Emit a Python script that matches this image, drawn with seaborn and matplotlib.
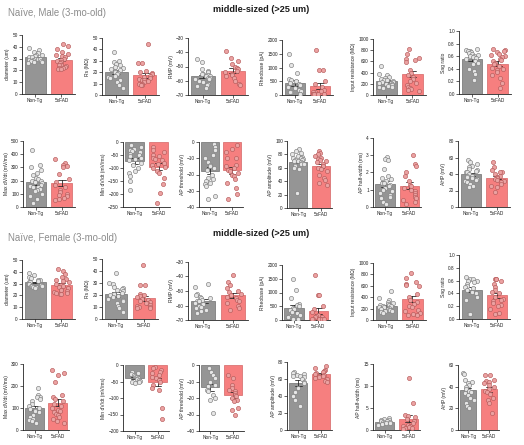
import numpy as np
import pandas as pd
import matplotlib
matplotlib.use('Agg')
import matplotlib.pyplot as plt
import seaborn as sns

# ── Data ──────────────────────────────────────────────────────────────────────
groups = ['Non-Tg', '5xFAD']

# passive properties (same cells shown in both male / female top rows)
diam_wt = [39, 37, 36, 35, 33, 33, 32, 31, 31, 30, 30, 30, 29, 29, 28, 28, 28, 27, 27, 26]
diam_tg = [42, 41, 38, 36, 34, 33, 32, 31, 30, 29, 28, 27, 26, 25, 25, 24, 23, 22, 22, 21, 21]
rs_wt = [38, 30, 29, 27, 26, 25, 24, 23, 22, 21, 20, 19, 18, 17, 16, 15, 13, 11, 9, 6]
rs_tg = [45, 28, 28, 21, 20, 19, 18, 17, 16, 15, 14, 13, 13, 12, 11, 10, 10, 9, 9]
rmp_wt = [-45, -47, -52, -53, -54, -55, -55, -56, -57, -57, -58, -58, -59, -59, -60, -61, -62, -63, -64, -65]
rmp_tg = [-39, -44, -46, -48, -50, -51, -52, -53, -54, -55, -56, -57, -58, -60, -62, -63]
rheo_wt = [1500, 1100, 800, 600, 550, 500, 450, 400, 350, 300, 250, 200, 150, 100, 100, 50, 50]
rheo_tg = [1650, 900, 900, 500, 400, 300, 200, 150, 100, 100, 50, 50, 50, 50, 25, 25]
rin_wt = [510, 380, 350, 320, 300, 280, 270, 260, 250, 240, 230, 220, 210, 200, 190, 180, 170, 160, 150, 140, 130]
rin_tg = [820, 740, 660, 640, 620, 590, 450, 400, 350, 320, 280, 250, 220, 180, 150, 120, 100, 90, 80]

# male
m_sag_wt = [0.72, 0.70, 0.69, 0.68, 0.66, 0.65, 0.63, 0.62, 0.60, 0.60, 0.58, 0.57, 0.55, 0.53, 0.50, 0.47, 0.40, 0.36, 0.31, 0.22]
m_sag_tg = [0.71, 0.70, 0.68, 0.66, 0.64, 0.62, 0.60, 0.58, 0.56, 0.54, 0.52, 0.50, 0.48, 0.45, 0.42, 0.40, 0.38, 0.35, 0.30, 0.25, 0.18, 0.10]
m_maxdv_wt = [430, 320, 300, 280, 260, 240, 220, 210, 200, 200, 190, 180, 170, 160, 150, 150, 140, 130, 120, 100, 80, 60, 30]
m_maxdv_tg = [360, 330, 320, 310, 300, 250, 210, 190, 170, 150, 130, 110, 100, 90, 80, 70, 60, 50]
m_mindv_wt = [-10, -20, -25, -30, -35, -40, -45, -50, -55, -60, -65, -70, -80, -90, -100, -110, -120, -130, -150, -185]
m_mindv_tg = [-20, -30, -40, -50, -55, -60, -65, -70, -80, -85, -90, -95, -100, -110, -120, -140, -160, -195, -235]
m_thr_wt = [-1, -3, -5, -8, -10, -12, -14, -15, -16, -17, -20, -22, -23, -24, -25, -26, -27, -33, -35]
m_thr_tg = [-2, -4, -6, -10, -10, -14, -15, -16, -17, -18, -19, -20, -21, -23, -25, -28, -32, -35]
m_amp_wt = [88, 85, 82, 80, 78, 76, 75, 74, 73, 72, 71, 70, 70, 68, 67, 66, 65, 64, 62, 60, 58, 22]
m_amp_tg = [85, 82, 80, 78, 75, 73, 72, 70, 68, 65, 62, 60, 58, 55, 50, 45, 42, 38, 35]
m_hw_wt = [2.9, 2.8, 2.7, 2.2, 1.8, 1.7, 1.6, 1.5, 1.4, 1.4, 1.3, 1.2, 1.1, 1.0, 1.0, 0.9, 0.8, 0.7, 0.6, 0.5, 0.3, 0.2]
m_hw_tg = [3.0, 2.5, 2.4, 2.0, 1.8, 1.5, 1.3, 1.2, 1.1, 1.0, 0.9, 0.8, 0.7, 0.6, 0.5, 0.4, 0.3, 0.2]
m_ahp_wt = [57, 55, 52, 50, 48, 46, 45, 44, 43, 42, 40, 38, 37, 36, 35, 34, 33, 32, 30, 28, 26, 24]
m_ahp_tg = [54, 48, 45, 43, 42, 40, 38, 36, 35, 34, 33, 32, 30, 28, 26, 24, 18]

# female
f_sag_wt = [0.65, 0.63, 0.62, 0.60, 0.60, 0.58, 0.55, 0.52, 0.50, 0.48, 0.45, 0.42, 0.40, 0.35, 0.30, 0.08, 0.08]
f_sag_tg = [0.63, 0.62, 0.62, 0.60, 0.55, 0.50, 0.45, 0.42, 0.40, 0.35, 0.32, 0.30, 0.28, 0.25, 0.22, 0.20, 0.15, 0.10, 0.08]
f_maxdv_wt = [190, 160, 150, 150, 140, 130, 120, 110, 100, 95, 90, 85, 80, 70, 60, 50, 45, 40, 30]
f_maxdv_tg = [275, 260, 250, 220, 160, 150, 140, 130, 120, 110, 100, 90, 85, 80, 75, 70, 60, 50, 40, 30]
f_mindv_wt = [-20, -25, -28, -30, -32, -35, -37, -40, -42, -45, -48, -50, -52, -55]
f_mindv_tg = [-5, -10, -15, -20, -25, -30, -35, -40, -45, -50, -60, -70, -75, -130, -165]
f_thr_wt = [-2, -4, -6, -8, -10, -12, -13, -15, -16, -18, -20, -21, -29]
f_thr_tg = [-6, -8, -12, -14, -15, -16, -17, -18, -19, -20, -21, -22, -26, -27, -30]
f_amp_wt = [68, 67, 66, 65, 64, 63, 62, 60, 57, 55, 50, 45, 40, 35, 28]
f_amp_tg = [75, 73, 71, 70, 68, 67, 66, 65, 64, 63, 62, 61, 60, 58, 57]
f_hw_wt = [2.7, 2.5, 2.3, 2.2, 2.1, 2.0, 1.9, 1.8, 1.7, 1.6, 1.5, 1.4, 1.3, 1.2]
f_hw_tg = [11.8, 6.2, 3.5, 3.2, 3.0, 2.5, 2.0, 1.5, 1.2, 1.0, 0.8, 0.6, 0.5, 0.4, 0.3]
f_ahp_wt = [53, 52, 46, 44, 43, 42, 40, 38, 36, 35, 34, 32, 30, 28, 25, 22, 20]
f_ahp_tg = [51, 51, 46, 45, 44, 43, 42, 40, 38, 36, 35, 33, 30, 28, 25, 16]

# (ylabel, y range, tick step, Non-Tg values, 5xFAD values)
panels = [
    # row 1 - male passive
    ('diameter (um)', (0, 50), 10, diam_wt, diam_tg),
    ('Rs (M\u03a9)', (0, 50), 10, rs_wt, rs_tg),
    ('RMP (mV)', (-70, -30), 10, rmp_wt, rmp_tg),
    ('Rheobase (pA)', (0, 2000), 500, rheo_wt, rheo_tg),
    ('Input resistance (M\u03a9)', (0, 1000), 200, rin_wt, rin_tg),
    ('Sag ratio', (0, 1.0), 0.2, m_sag_wt, m_sag_tg),
    # row 2 - male AP
    ('Max dV/dt (mV/ms)', (0, 500), 100, m_maxdv_wt, m_maxdv_tg),
    ('Min dV/dt (mV/ms)', (-250, 0), 50, m_mindv_wt, m_mindv_tg),
    ('AP threshold (mV)', (-40, 0), 10, m_thr_wt, m_thr_tg),
    ('AP amplitude (mV)', (0, 100), 20, m_amp_wt, m_amp_tg),
    ('AP half-width (ms)', (0, 4), 1, m_hw_wt, m_hw_tg),
    ('AHP (mV)', (0, 80), 20, m_ahp_wt, m_ahp_tg),
    # row 3 - female passive
    ('diameter (um)', (0, 50), 10, diam_wt, diam_tg),
    ('Rs (M\u03a9)', (0, 50), 10, rs_wt, rs_tg),
    ('RMP (mV)', (-70, -30), 10, rmp_wt, rmp_tg),
    ('Rheobase (pA)', (0, 2000), 500, rheo_wt, rheo_tg),
    ('Input resistance (M\u03a9)', (0, 1000), 200, rin_wt, rin_tg),
    ('Sag ratio', (0, 1.0), 0.2, f_sag_wt, f_sag_tg),
    # row 4 - female AP
    ('Max dV/dt (mV/ms)', (0, 300), 100, f_maxdv_wt, f_maxdv_tg),
    ('Min dV/dt (mV/ms)', (-200, 0), 50, f_mindv_wt, f_mindv_tg),
    ('AP threshold (mV)', (-40, 0), 10, f_thr_wt, f_thr_tg),
    ('AP amplitude (mV)', (0, 80), 20, f_amp_wt, f_amp_tg),
    ('AP half-width (ms)', (0, 15), 5, f_hw_wt, f_hw_tg),
    ('AHP (mV)', (0, 60), 20, f_ahp_wt, f_ahp_tg),
]

# layout in pixels: (y-spine x, right end of bars, top of axis, bottom of axis)
layout = [
    (22, 72, 35, 94), (102, 156, 38, 95), (188, 245, 38, 95),
    (282, 330, 40, 95), (373, 423, 39, 95), (459, 508, 31, 94),
    (23, 72, 141, 207), (123, 168, 142, 207), (199, 241, 142, 207),
    (287, 330, 141, 208), (373, 419, 138, 207), (458, 507, 141, 207),
    (22, 72, 260, 319), (102, 155, 259, 319), (188, 245, 262, 320),
    (282, 328, 265, 320), (373, 423, 263, 320), (459, 507, 255, 319),
    (23, 67, 364, 430), (123, 167, 365, 431), (199, 242, 365, 431),
    (287, 330, 362, 430), (373, 418, 364, 430), (458, 497, 365, 430),
]

bar_colors = {'Non-Tg': '#959595', '5xFAD': '#F67F7F'}
bar_edges = {'Non-Tg': '#6f6f6f', '5xFAD': '#d46565'}
pt_face = {'Non-Tg': '#e6e6e6', '5xFAD': '#eba2a2'}
pt_edge = {'Non-Tg': '#7d7d7d', '5xFAD': '#b65a5a'}

# ── Figure ────────────────────────────────────────────────────────────────────
sns.set_theme(style='ticks')
plt.rcParams['font.family'] = ['Liberation Sans', 'DejaVu Sans']
np.random.seed(7)

W, H = 524, 445
fig = plt.figure(figsize=(W / 100, H / 100), dpi=100)

for (ylab, ylim, step, wt, tg), (x0, x1, yt, yb) in zip(panels, layout):
    width = (x1 - x0) / 0.95
    ax = fig.add_axes([x0 / W, 1 - yb / H, width / W, (yb - yt) / H])
    df = pd.DataFrame({'group': ['Non-Tg'] * len(wt) + ['5xFAD'] * len(tg),
                       'value': wt + tg})

    sns.barplot(data=df, x='group', y='value', hue='group', order=groups,
                palette=bar_colors, saturation=1, errorbar='se', capsize=0.3,
                width=0.8, err_kws={'color': '#2b2b2b', 'linewidth': 0.6},
                linewidth=0.5, legend=False, ax=ax)

    # bars start from the axis floor when 0 is outside the range
    base = 0 if ylim[0] <= 0 <= ylim[1] else ylim[0]
    for p, g in zip(ax.patches, groups):
        p.set_edgecolor(bar_edges[g])
        if base != 0:
            top = p.get_y() + p.get_height()
            p.set_y(base)
            p.set_height(top - base)

    for g in groups:
        sns.stripplot(data=df[df['group'] == g], x='group', y='value', order=groups,
                      color=pt_face[g], edgecolor=pt_edge[g], linewidth=0.45,
                      size=3.0, jitter=0.28, zorder=3, ax=ax)

    ax.set_xlim(-0.5, 1.5)
    ax.set_ylim(*ylim)
    ax.set_yticks(np.arange(ylim[0], ylim[1] + step / 2, step))
    if step < 1:
        ax.set_yticklabels([f'{t:.1f}' for t in ax.get_yticks()])
    ax.set_xlabel('')
    ax.set_ylabel(ylab, fontsize=3.6, labelpad=1.5)
    ax.tick_params(axis='both', labelsize=3.4, length=2, width=0.5, pad=1,
                   colors='#222222')
    for s in ['left', 'bottom']:
        ax.spines[s].set_linewidth(0.6)
        ax.spines[s].set_color('#222222')
    sns.despine(ax=ax)

# section headers
for y_grp, y_ttl, name in [(13, 9, 'Na\u00efve, Male (3-mo-old)'),
                           (238, 233, 'Na\u00efve, Female (3-mo-old)')]:
    fig.text(8 / W, 1 - y_grp / H, name, fontsize=6.9, color='#8c8c8c',
             va='center', ha='left')
    fig.text(261 / W, 1 - y_ttl / H, 'middle-sized (>25 um)', fontsize=6.6,
             fontweight='bold', color='#1a1a1a', va='center', ha='center')

fig.savefig('out.png', dpi=100)
